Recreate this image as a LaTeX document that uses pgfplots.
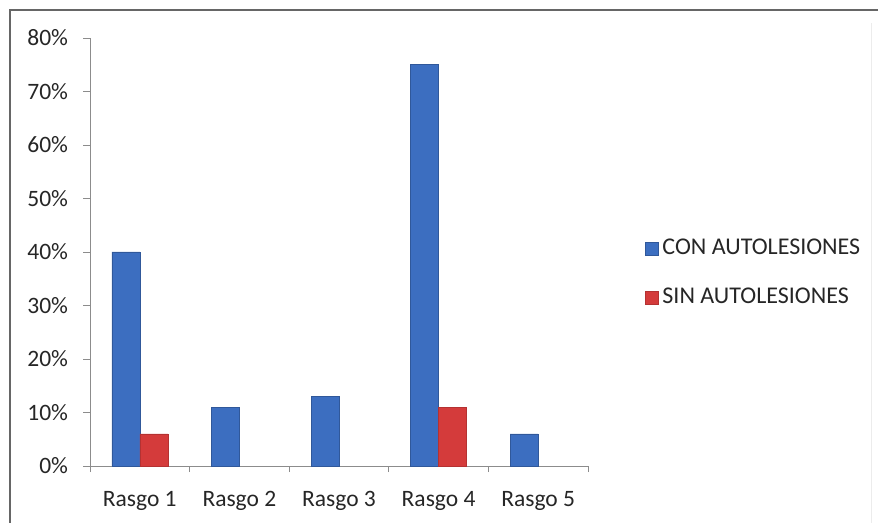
\documentclass[border=0pt]{standalone}
\usepackage{pgfplots}
\pgfplotsset{compat=1.18}
\usepackage{fontspec}
\setmainfont{Carlito}
\definecolor{barblue}{HTML}{3C6EC0}
\definecolor{barred}{HTML}{D43B3B}
\definecolor{axgray}{HTML}{8C8C8C}
\begin{document}
\fontsize{23.5bp}{27bp}\selectfont
\begin{tikzpicture}
\useasboundingbox (0,0) rectangle (878bp,523bp);
\draw[color=gray!80!black, line width=2bp] (10bp,0) -- (10bp,513bp) -- (878bp,513bp);
\draw[color=gray!15, line width=1bp] (871bp,0) -- (871bp,500bp);
\begin{axis}[
  at={(90bp,57bp)}, anchor=origin,
  scale only axis, width=498bp, height=428bp,
  ybar=0pt, bar width=28bp,
  xmin=0.5, xmax=5.5, ymin=0, ymax=80,
  axis x line*=bottom, axis y line*=left,
  axis line style={-, color=axgray, line width=0.8bp},
  xtick={1,2,3,4,5},
  xticklabels={Rasgo 1,Rasgo 2,Rasgo 3,Rasgo 4,Rasgo 5},
  minor xtick={0.5,1.5,2.5,3.5,4.5,5.5},
  ytick={0,10,...,80},
  yticklabel={\pgfmathprintnumber{\tick}\%},
  /pgf/number format/assume math mode=true,
  tick style={color=axgray, line width=0.8bp},
  tick align=outside,
  major x tick style={draw=none},
  minor tick length=6bp,
  major tick length=7bp,
  yticklabel style={font=\fontsize{23.5bp}{27bp}\selectfont, color=black!85, xshift=-7bp},
  xticklabel style={font=\fontsize{23.5bp}{27bp}\selectfont, color=black!85, yshift=-10bp},
  legend style={at={(1.114,0.451)}, anchor=west, draw=none, fill=none,
    font=\fontsize{24bp}{28bp}\selectfont, text=black!85,
    row sep=26bp, inner sep=0pt},
  legend cell align=left,
  legend image code/.code={\fill[#1] (0bp,-6.5bp) rectangle (13bp,6.5bp);},
  legend style={nodes={inner xsep=4bp}},
]
\addplot[fill=barblue, draw=barblue!80!black, line width=0.5bp] coordinates {(1,40) (2,11) (3,13) (4,75) (5,6)};
\addplot[fill=barred, draw=barred!85!black, line width=0.5bp] coordinates {(1,6) (4,11)};
\legend{CON AUTOLESIONES, SIN AUTOLESIONES}
\end{axis}
\end{tikzpicture}
\end{document}
